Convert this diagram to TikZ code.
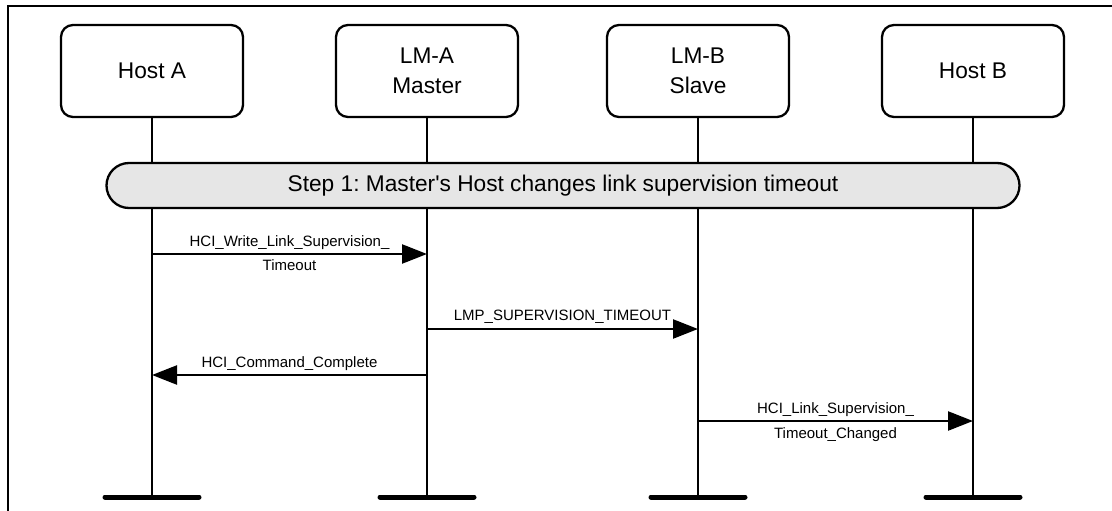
\documentclass[tikz,border=0pt]{standalone}
\usepackage{fontspec}
\setmainfont{Liberation Sans}
\usepackage{xcolor}
\usetikzlibrary{positioning, arrows.meta, calc}

\definecolor{stepgray}{HTML}{E6E6E6}
\frenchspacing

\begin{document}
\begin{tikzpicture}[
x=1pt, y=-1pt,
    entity/.style={rectangle, draw, line width=2.3pt, minimum width=182pt, minimum height=92pt, rounded corners=12pt, align=center, font=\fontsize{22.7}{30}\selectfont},
    stepbar/.style={rectangle, draw, line width=2.3pt, fill=stepgray, minimum width=913pt, minimum height=45pt, rounded corners=22.5pt, font=\fontsize{22.7}{27}\selectfont},
    lifeline/.style={draw, line width=2pt},
    endbar/.style={draw, line width=5pt, line cap=round},
    msg/.style={draw, line width=2.4pt, -{Triangle[length=25pt,width=19pt]}},
    lbl/.style={anchor=base, inner sep=0pt, font=\fontsize{15}{18}\selectfont},
    frame/.style={draw, line width=2.5pt}
]
    \useasboundingbox (0,0) rectangle (1112,511);

    % ================= FRAME =================
    \draw[frame] (8,512) -- (8,6) -- (1113,6);

    % ================= ENTITIES =================
    \node[entity] (hostA) at (152, 71) {Host A};
    \node[entity] (lmA) at (427, 71) {LM-A\\Master};
    \node[entity] (lmB) at (698, 71) {LM-B\\Slave};
    \node[entity] (hostB) at (973, 71) {Host B};

    % ================= STEP =================
    \node[stepbar] (step1) at (563, 185.5) {Step 1: Master\textquotesingle s Host changes link supervision timeout};

    % ================= LIFELINES =================
    \coordinate (bottom) at (0, 497);

    \draw[lifeline] (hostA) -- (hostA |- step1.north);
    \draw[lifeline] (lmA) -- (lmA |- step1.north);
    \draw[lifeline] (lmB) -- (lmB |- step1.north);
    \draw[lifeline] (hostB) -- (hostB |- step1.north);

    \draw[lifeline] (hostA |- step1.south) -- (hostA |- bottom);
    \draw[lifeline] (lmA |- step1.south) -- (lmA |- bottom);
    \draw[lifeline] (lmB |- step1.south) -- (lmB |- bottom);
    \draw[lifeline] (hostB |- step1.south) -- (hostB |- bottom);

    \draw[endbar] ($(hostA |- bottom)+(-47,0)$) -- ($(hostA |- bottom)+(47,0)$);
    \draw[endbar] ($(lmA |- bottom)+(-47,0)$) -- ($(lmA |- bottom)+(47,0)$);
    \draw[endbar] ($(lmB |- bottom)+(-47,0)$) -- ($(lmB |- bottom)+(47,0)$);
    \draw[endbar] ($(hostB |- bottom)+(-47,0)$) -- ($(hostB |- bottom)+(47,0)$);

    % ================= MESSAGES =================
    \coordinate (m1) at (0, 254);
    \coordinate (m2) at (0, 329);
    \coordinate (m3) at (0, 375);
    \coordinate (m4) at (0, 421);

    \draw[msg] (hostA |- m1) -- node[lbl, yshift=8pt] {HCI\_Write\_Link\_Supervision\_}
        node[lbl, yshift=-16pt] {Timeout} (lmA |- m1);
    \draw[msg] (lmA |- m2) -- node[lbl, yshift=8.5pt] {LMP\_SUPERVISION\_TIMEOUT} (lmB |- m2);
    \draw[msg] (lmA |- m3) -- node[lbl, yshift=8pt] {HCI\_Command\_Complete} (hostA |- m3);
    \draw[msg] (lmB |- m4) -- node[lbl, yshift=8pt] {HCI\_Link\_Supervision\_}
        node[lbl, yshift=-17pt] {Timeout\_Changed} (hostB |- m4);

\end{tikzpicture}
\end{document}
